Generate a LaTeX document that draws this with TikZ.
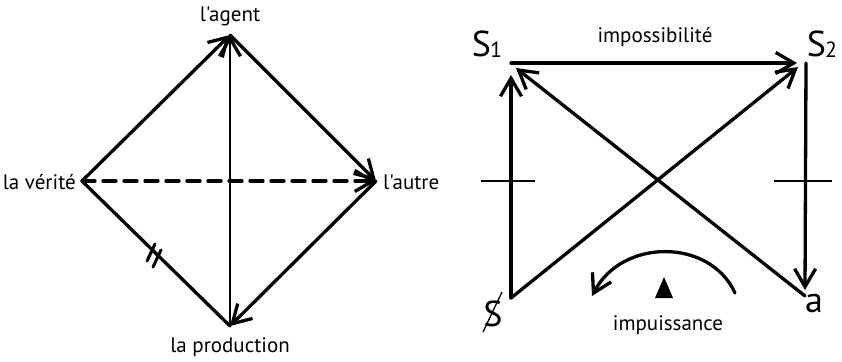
\documentclass[tikz,border=0pt]{standalone}
\usepackage{fontspec}
\setmainfont{PT Sans}[Ligatures=TeXOff]
\usetikzlibrary{arrows.meta,calc}
\tikzset{
  ln/.style={line width=3.3pt, line cap=round, line join=round},
  arr/.style={ln, -{Straight Barb[length=18pt,width=21pt,line width=3.3pt]}},
  lbl/.style={font=\fontsize{21}{24}\selectfont, inner sep=0pt},
  big/.style={font=\fontsize{36}{38}\selectfont, inner sep=0pt},
  tick/.style={line width=1.1pt}
}
\begin{document}
\begin{tikzpicture}[x=1pt,y=-1pt]
\useasboundingbox (0,0) rectangle (842,361);
% left diamond
\coordinate (ag) at (230,35);
\coordinate (ve) at (82,181);
\coordinate (au) at (376,181);
\coordinate (pr) at (230,326);
\node[lbl] (lag) at (230,16) {l'agent};
\node[lbl,anchor=east] (lve) at (76,182) {la vérité};
\node[lbl,anchor=west] (lau) at (383,182) {l'autre};
\node[lbl] (lpr) at (230,347) {la production};
\draw[arr] (ve) -- (ag);
\draw[arr, line width=2.8pt] (pr) -- (ag);
\draw[arr] (ag) -- (au);
\draw[arr, dash pattern=on 13pt off 8pt] (ve) -- (au);
\draw[arr] (au) -- (pr);
\draw[ln] (ve) -- (pr);
\coordinate (m1) at (151,253);
\coordinate (m2) at (157,259);
\draw[line width=3pt, line cap=round] ($(m1)+(-4,8)$) -- ($(m1)+(4,-9)$);
\draw[line width=3pt, line cap=round] ($(m2)+(-4,8)$) -- ($(m2)+(4,-9)$);
% right square
\coordinate (s1) at (511,63);
\coordinate (s2) at (806,63);
\coordinate (sb) at (511,298);
\coordinate (sa) at (805,296);
\node[big] (ls1) at (487,44) {S\kern-1pt\raisebox{-1pt}{\fontsize{22}{22}\selectfont 1}};
\node[big] (ls2) at (822,44) {S\kern-1pt\raisebox{-1pt}{\fontsize{22}{22}\selectfont 2}};
\node[big] (lsb) at (493,314) {S};
\draw[line width=1.3pt] (483,332) -- (502,292);
\node[big] (lsa) at (814,303) {a};
\node[lbl] (imp) at (655,37) {impossibilité};
\node[lbl] (imu) at (668,325) {impuissance};
\draw[arr] (s1) -- (797,63);
\draw[arr] (s2) -- (805,290);
\draw[arr] (sb) -- (511,75);
\draw[arr] (sb) -- (798,67);
\draw[arr] (sa) -- (516,68);
\draw[tick] (481,181) -- (535,181);
\draw[tick] (774,181) -- (832,181);
\draw[arr] (735,293) .. controls (710,238) and (622,238) .. (592,296);
\fill (664,277) -- (673,298) -- (655,298) -- cycle;
\end{tikzpicture}
\end{document}
